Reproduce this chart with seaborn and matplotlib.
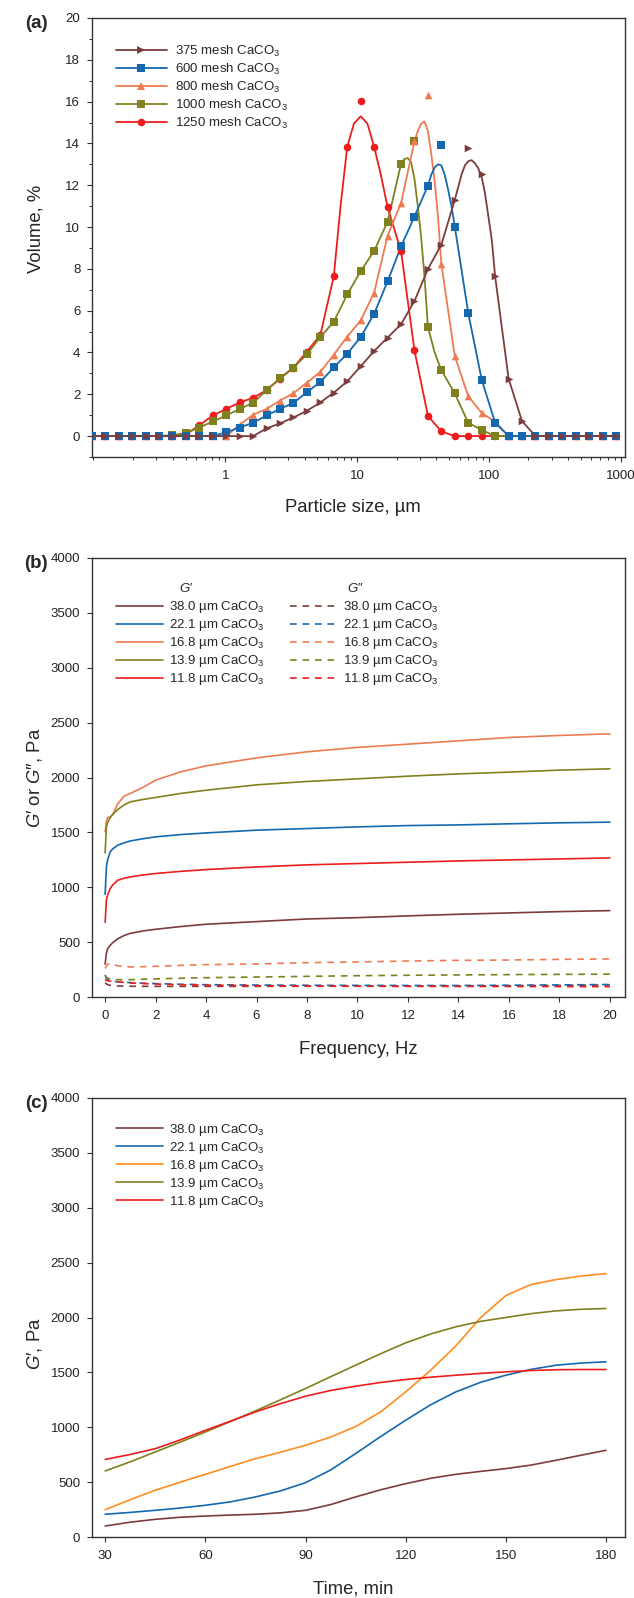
#!/usr/bin/env python3
"""
Particle size distribution and rheology of CaCO3 filled samples
"""

import numpy as np
import matplotlib
matplotlib.use('Agg')
import matplotlib.pyplot as plt
import seaborn as sns
from matplotlib.lines import Line2D
from matplotlib.ticker import FixedLocator, MultipleLocator, FuncFormatter

sns.set_style("ticks")
plt.rcParams['font.family'] = ['Liberation Sans', 'DejaVu Sans']
plt.rcParams['mathtext.fontset'] = 'custom'
plt.rcParams['mathtext.rm'] = 'Liberation Sans'
plt.rcParams['mathtext.it'] = 'Liberation Sans:italic'
plt.rcParams['mathtext.bf'] = 'Liberation Sans:bold'

# ---------------- (a) particle size distribution ----------------
size_um = [0.0973, 0.1230, 0.1556, 0.1968, 0.2489, 0.3148, 0.3981, 0.5035, 0.6368, 0.8054,
           1.019, 1.288, 1.629, 2.061, 2.606, 3.296, 4.169, 5.272, 6.668, 8.433,
           10.67, 13.49, 17.06, 21.58, 27.29, 34.51, 43.65, 55.21, 69.82, 88.31,
           111.7, 141.3, 178.6, 225.9, 285.8, 361.4, 457.1, 578.1, 731.1, 924.7]

vol_375 = [0] * 13 + [0.37, 0.61, 0.89, 1.21, 1.61, 2.08, 2.62, 3.34, 4.07, 4.71,
                      5.35, 6.46, 7.99, 9.16, 11.3, 13.78, 12.54, 7.64, 2.75, 0.72] + [0] * 7
vol_600 = [0] * 10 + [0.19, 0.41, 0.64, 0.99, 1.30, 1.59, 2.10, 2.59, 3.29, 3.94, 4.74,
                      5.85, 7.40, 9.07, 10.50, 11.98, 13.94, 10.02, 5.89, 2.70, 0.64] + [0] * 9
vol_800 = [0] * 11 + [0.55, 1.02, 1.30, 1.70, 2.05, 2.56, 3.07, 3.89, 4.76, 5.54,
                      6.86, 9.59, 11.14, 14.1, 16.32, 8.24, 3.82, 1.91, 1.11, 0.68] + [0] * 9
vol_1000 = [0] * 6 + [0.05, 0.15, 0.41, 0.70, 0.99, 1.30, 1.59, 2.20, 2.77, 3.28, 3.91, 4.74,
                      5.47, 6.78, 7.89, 8.86, 10.25, 13.02, 14.1, 5.22, 3.15, 2.04, 0.64, 0.29] + [0] * 10
vol_1250 = [0] * 7 + [0.08, 0.52, 0.99, 1.30, 1.61, 1.83, 2.20, 2.75, 3.28, 4.04, 4.84,
                      7.65, 13.84, 16.04, 13.84, 10.95, 8.85, 4.10, 0.97, 0.22] + [0] * 13

# fitted curve around each peak
fit_375_x = [62.09, 65.84, 69.82, 74.05, 78.52, 83.27, 88.31, 93.65, 99.3, 105.3]
fit_375_y = [12.5, 12.95, 13.15, 13.2, 13.05, 12.8, 12.4, 11.6, 10.5, 9.4]
fit_600_x = [36.60, 38.82, 41.17, 43.65, 46.30, 49.09, 52.06]
fit_600_y = [12.5, 12.85, 13.0, 12.95, 12.5, 11.8, 11.0]
fit_800_x = [28.94, 30.69, 32.54, 34.51, 36.60, 38.82, 41.17]
fit_800_y = [14.6, 14.95, 15.05, 14.6, 13.5, 12.2, 10.5]
fit_1000_x = [22.89, 24.27, 25.73, 27.29, 28.94, 30.69, 32.54, 34.51, 38.82]
fit_1000_y = [13.25, 13.3, 13.1, 12.3, 11.0, 9.5, 7.6, 5.22, 4.0]
fit_1250_x = [7.50, 8.433, 9.48, 10.67, 11.99, 13.49, 15.17]
fit_1250_y = [11.0, 13.84, 14.95, 15.3, 14.95, 13.84, 12.5]

mesh_labels = ['375 mesh CaCO$_3$', '600 mesh CaCO$_3$', '800 mesh CaCO$_3$',
               '1000 mesh CaCO$_3$', '1250 mesh CaCO$_3$']

# ---------------- (b) frequency sweep ----------------
freq_hz = [0.0, 0.05, 0.1, 0.2, 0.3, 0.5, 0.75, 1, 1.5, 2, 3, 4, 6, 8, 10, 12, 14, 16, 18, 20]

gp_380 = [300, 400, 440, 470, 495, 530, 560, 580, 602, 617, 642, 663, 687, 711, 723, 739, 754, 766, 778, 787]
gp_221 = [936, 1185, 1250, 1322, 1350, 1383, 1405, 1422, 1442, 1459, 1480, 1495, 1520, 1535, 1550, 1562, 1568, 1578, 1587, 1593]
gp_168 = [1505, 1600, 1635, 1640, 1660, 1760, 1830, 1855, 1910, 1976, 2052, 2106, 2179, 2234, 2274, 2304, 2334, 2365, 2383, 2398]
gp_139 = [1313, 1550, 1590, 1635, 1665, 1708, 1750, 1778, 1800, 1818, 1855, 1884, 1933, 1964, 1988, 2012, 2033, 2049, 2067, 2079]
gp_118 = [681, 881, 930, 988, 1020, 1064, 1082, 1094, 1112, 1125, 1145, 1161, 1185, 1204, 1216, 1228, 1240, 1249, 1258, 1267]

gpp_380 = [130, 120, 112, 106, 103, 100, 99, 98, 97, 97, 97, 97, 97, 98, 99, 100, 101, 103, 106, 110]
gpp_221 = [200, 170, 160, 150, 145, 138, 134, 131, 126, 122, 116, 112, 109, 107, 106, 105, 105, 107, 110, 114]
gpp_168 = [260, 280, 300, 300, 295, 285, 278, 274, 276, 280, 288, 295, 301, 313, 319, 328, 334, 337, 343, 347]
gpp_139 = [200, 180, 170, 165, 162, 158, 157, 158, 162, 165, 171, 176, 182, 188, 194, 198, 201, 204, 206, 208]
gpp_118 = [160, 150, 148, 145, 142, 138, 133, 128, 122, 118, 112, 108, 103, 100, 98, 97, 96, 96, 95, 94]

size_labels = ['38.0 µm CaCO$_3$', '22.1 µm CaCO$_3$', '16.8 µm CaCO$_3$',
               '13.9 µm CaCO$_3$', '11.8 µm CaCO$_3$']

# ---------------- (c) time sweep ----------------
time_min = [30, 37.5, 45, 52.5, 60, 67.5, 75, 82.5, 90, 97.5, 105,
            112.5, 120, 127.5, 135, 142.5, 150, 157.5, 165, 172.5, 180]
gt_380 = [100, 135, 161, 180, 191, 200, 207, 220, 243, 295, 365,
          430, 486, 535, 571, 598, 623, 655, 699, 745, 790]
gt_221 = [207, 224, 243, 264, 289, 320, 365, 420, 495, 610, 760,
          915, 1064, 1205, 1322, 1410, 1474, 1527, 1565, 1585, 1596]
gt_168 = [249, 340, 426, 500, 571, 643, 714, 772, 836, 910, 1006,
          1140, 1322, 1520, 1740, 2000, 2200, 2300, 2345, 2378, 2400]
gt_139 = [602, 685, 775, 865, 957, 1052, 1149, 1250, 1353, 1460, 1565,
          1670, 1769, 1850, 1915, 1965, 2000, 2035, 2060, 2075, 2082]
gt_118 = [707, 752, 805, 885, 972, 1055, 1140, 1215, 1283, 1335, 1374,
          1408, 1435, 1456, 1474, 1491, 1505, 1517, 1524, 1526, 1526]

# colours
c_brown = '#7D3C3C'
c_blue = '#1468B0'
c_salmon = '#EE7A52'
c_orange = '#FF8C1E'
c_olive = '#80801E'
c_red = '#EE1C1C'

TICK_FS = 9.5
LABEL_FS = 13.3
LEG_FS = 9.5
SPINE_C = '#333333'


def fitted_curve(sizes, pts, fit_x, fit_y):
    lo, hi = fit_x[0], fit_x[-1]
    xs = [s for s in sizes if s < lo or s > hi] + list(fit_x)
    ys = [v for s, v in zip(sizes, pts) if s < lo or s > hi] + list(fit_y)
    order = np.argsort(xs)
    return np.array(xs)[order], np.array(ys)[order]


def style_axes(ax):
    for sp in ax.spines.values():
        sp.set_color(SPINE_C)
        sp.set_linewidth(1.0)
    ax.tick_params(which='major', direction='out', length=3.6, width=0.8, color=SPINE_C,
                   labelsize=TICK_FS, labelcolor='#222222')
    ax.tick_params(which='minor', direction='out', length=2.2, width=0.7, color=SPINE_C)
    ax.tick_params(axis='x', which='major', pad=5.5)
    ax.tick_params(axis='y', which='major', pad=4.5)
    ax.tick_params(top=False, right=False, which='both')


fig = plt.figure(figsize=(6.34, 15.98), dpi=100)
L, W, H = 91.5 / 634, 533.5 / 634, 439 / 1598

# ---------- panel (a) ----------
ax = fig.add_axes([L, 1 - 457 / 1598, W, H])
ax.set_xscale('log')
series_a = [
    (vol_375, fit_375_x, fit_375_y, c_brown, '>'),
    (vol_600, fit_600_x, fit_600_y, c_blue, 's'),
    (vol_800, fit_800_x, fit_800_y, c_salmon, '^'),
    (vol_1000, fit_1000_x, fit_1000_y, c_olive, 's'),
    (vol_1250, fit_1250_x, fit_1250_y, c_red, 'o'),
]
for pts, fx, fy, col, mk in reversed(series_a):
    cx, cy = fitted_curve(size_um, pts, fx, fy)
    sns.lineplot(x=cx, y=cy, ax=ax, color=col, lw=1.3, estimator=None)
for pts, fx, fy, col, mk in reversed(series_a):
    sns.scatterplot(x=size_um, y=pts, ax=ax, color=col, marker=mk, s=30,
                    edgecolor=col, linewidth=0, zorder=3)
ax.set_xlim(0.0967, 1080)
ax.set_ylim(-1, 20)
ax.xaxis.set_major_locator(FixedLocator([1, 10, 100, 1000]))
minor_x = [m * 10.0 ** e for e in range(-1, 3) for m in range(1, 10)
           if m * 10.0 ** e not in (1, 10, 100)]
ax.xaxis.set_minor_locator(FixedLocator(minor_x))
ax.xaxis.set_major_formatter(FuncFormatter(lambda v, p: '%g' % v))
ax.xaxis.set_minor_formatter(FuncFormatter(lambda v, p: ''))
ax.yaxis.set_major_locator(FixedLocator(list(range(0, 21, 2))))
ax.yaxis.set_minor_locator(MultipleLocator(1))
style_axes(ax)
ax.set_xlabel('Particle size, µm', fontsize=LABEL_FS)
ax.set_ylabel('Volume, %', fontsize=LABEL_FS)
ax.xaxis.set_label_coords(0.49, -0.096)
ax.yaxis.set_label_coords(-0.089, 0.52)
handles = [Line2D([], [], color=col, marker=mk, lw=1.3, ms=5.5, mec=col, mew=0)
           for pts, fx, fy, col, mk in series_a]
ax.legend(handles, mesh_labels, loc='upper left', bbox_to_anchor=(0.046, 0.942),
          frameon=False, fontsize=LEG_FS, handlelength=3.85, handletextpad=0.6,
          labelspacing=0.23, borderpad=0, borderaxespad=0)
fig.text(36 / 634, 1 - 23 / 1598, '(a)', fontsize=13.5, fontweight='bold',
         ha='center', va='center')

# ---------- panel (b) ----------
ax = fig.add_axes([L, 1 - 997 / 1598, W, H])
cols_b = [c_brown, c_blue, c_salmon, c_olive, c_red]
gp_all = [gp_380, gp_221, gp_168, gp_139, gp_118]
gpp_all = [gpp_380, gpp_221, gpp_168, gpp_139, gpp_118]
for vals, col in zip(gpp_all, cols_b):
    sns.lineplot(x=freq_hz, y=vals, ax=ax, color=col, lw=1.2, estimator=None)
    ax.lines[-1].set_linestyle((0, (4, 3.5)))
for vals, col in zip(gp_all, cols_b):
    sns.lineplot(x=freq_hz, y=vals, ax=ax, color=col, lw=1.2, estimator=None)
ax.set_xlim(-0.54, 20.6)
ax.set_ylim(0, 4000)
ax.xaxis.set_major_locator(MultipleLocator(2))
ax.yaxis.set_major_locator(MultipleLocator(500))
style_axes(ax)
ax.set_xlabel('Frequency, Hz', fontsize=LABEL_FS)
ax.set_ylabel('$\\mathit{G}$′ or $\\mathit{G}$″, Pa', fontsize=LABEL_FS)
ax.xaxis.set_label_coords(0.5, -0.100)
ax.yaxis.set_label_coords(-0.089, 0.5)
h_solid = [Line2D([], [], color=c, lw=1.2) for c in cols_b]
h_dash = [Line2D([], [], color=c, lw=1.2, ls=(0, (4, 3.5))) for c in cols_b]
ax.legend(h_solid + h_dash, size_labels + size_labels, ncol=2, loc='upper left',
          bbox_to_anchor=(0.046, 0.906), frameon=False, fontsize=LEG_FS,
          handlelength=3.55, handletextpad=0.5, labelspacing=0.15,
          columnspacing=1.9, borderpad=0, borderaxespad=0)
ax.text(0.176, 0.929, 'G′', transform=ax.transAxes, fontsize=LEG_FS,
        fontstyle='italic', ha='center', va='center')
ax.text(0.494, 0.929, 'G″', transform=ax.transAxes, fontsize=LEG_FS,
        fontstyle='italic', ha='center', va='center')
fig.text(36 / 634, 1 - 563 / 1598, '(b)', fontsize=13.5, fontweight='bold',
         ha='center', va='center')

# ---------- panel (c) ----------
ax = fig.add_axes([L, 1 - 1537 / 1598, W, H])
cols_c = [c_brown, c_blue, c_orange, c_olive, c_red]
gt_all = [gt_380, gt_221, gt_168, gt_139, gt_118]
for vals, col in zip(gt_all, cols_c):
    sns.lineplot(x=time_min, y=vals, ax=ax, color=col, lw=1.2, estimator=None)
ax.set_xlim(25.9, 185.7)
ax.set_ylim(0, 4000)
ax.xaxis.set_major_locator(MultipleLocator(30))
ax.yaxis.set_major_locator(MultipleLocator(500))
style_axes(ax)
ax.set_xlabel('Time, min', fontsize=LABEL_FS)
ax.set_ylabel('$\\mathit{G}$′, Pa', fontsize=LABEL_FS)
ax.xaxis.set_label_coords(0.49, -0.098)
ax.yaxis.set_label_coords(-0.089, 0.44)
h_c = [Line2D([], [], color=c, lw=1.2) for c in cols_c]
ax.legend(h_c, size_labels, loc='upper left', bbox_to_anchor=(0.046, 0.946),
          frameon=False, fontsize=LEG_FS, handlelength=3.55, handletextpad=0.5,
          labelspacing=0.15, borderpad=0, borderaxespad=0)
fig.text(36 / 634, 1 - 1103 / 1598, '(c)', fontsize=13.5, fontweight='bold',
         ha='center', va='center')

fig.savefig('out.png', dpi=100)
print("saved out.png")
